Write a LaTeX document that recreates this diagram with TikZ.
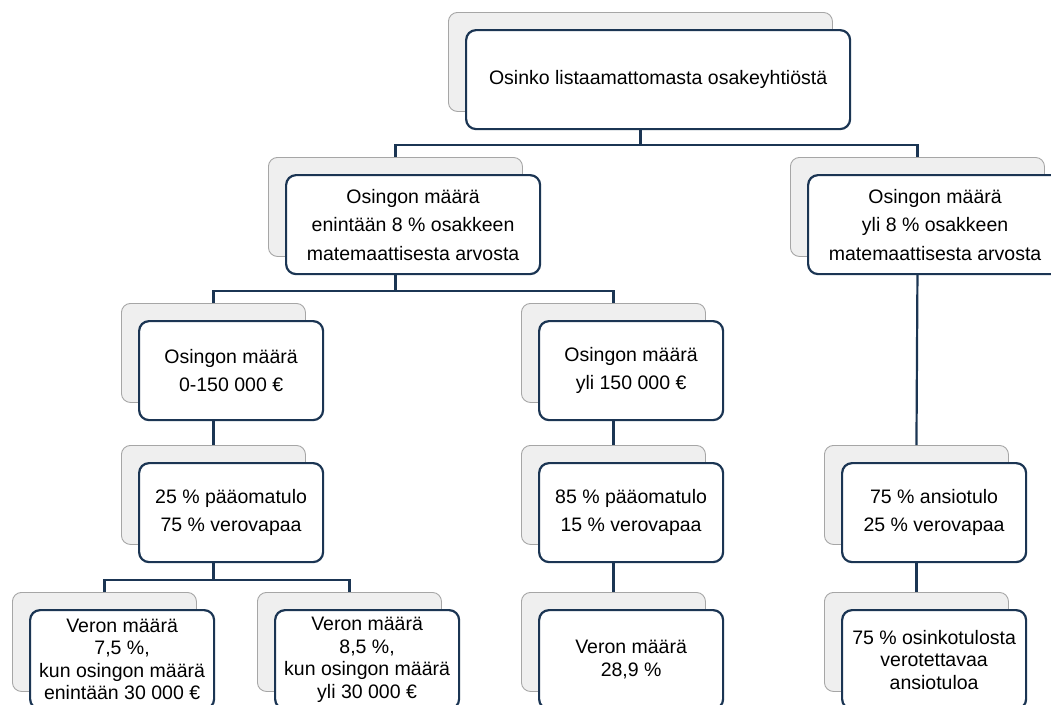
\documentclass[tikz,border=0pt]{standalone}
\usepackage{fontspec}
\setmainfont{Liberation Sans}
\definecolor{navy}{HTML}{1B3553}
\definecolor{shadefill}{HTML}{EFEFEF}
\definecolor{shadeline}{HTML}{A6A6A6}
\tikzset{
  backbox/.style={draw=shadeline, fill=shadefill, rounded corners=9pt, line width=0.9pt,
    anchor=north west, inner sep=0pt, minimum height=99pt},
  frontbox/.style={draw=navy, fill=white, rounded corners=10pt, line width=2.2pt,
    anchor=north west, inner sep=2pt, minimum height=99pt, align=center,
    font=\fontsize{19.5}{28.5}\selectfont},
  tightbox/.style={frontbox, font=\fontsize{19.5}{22.5}\selectfont},
  conn/.style={draw=navy, line width=2.2pt},
}
\begin{document}
\begin{tikzpicture}[x=1pt,y=-1pt]
\useasboundingbox (0,0) rectangle (1051,704);
\clip (0,0) rectangle (1051,704);
% level 1
\node[backbox, minimum width=384pt] (t) at (448,12) {};
\node[frontbox, minimum width=384pt] (tf) at (465,29) {Osinko listaamattomasta osakeyhtiöstä};
% level 2
\node[backbox, minimum width=254pt] (a) at (268,157) {};
\node[frontbox, minimum width=254pt] (af) at (285,174) {Osingon määrä\\enintään 8 \% osakkeen\\matemaattisesta arvosta};
\node[backbox, minimum width=254pt] (b) at (790,157) {};
\node[frontbox, minimum width=254pt] (bf) at (807,174) {Osingon määrä\\yli 8 \% osakkeen\\matemaattisesta arvosta};
% level 3
\node[backbox, minimum width=184pt] (c) at (121,303) {};
\node[frontbox, minimum width=184pt] (cf) at (138,320) {Osingon määrä\\0-150 000 €};
\node[backbox, minimum width=184pt] (d) at (521,303) {};
\node[frontbox, minimum width=184pt] (df) at (538,320) {Osingon määrä\\yli 150 000 €};
% level 4
\node[backbox, minimum width=184pt] (e) at (121,445) {};
\node[frontbox, minimum width=184pt] (ef) at (138,462) {25 \% pääomatulo\\75 \% verovapaa};
\node[backbox, minimum width=184pt] (f) at (521,445) {};
\node[frontbox, minimum width=184pt] (ff) at (538,462) {85 \% pääomatulo\\15 \% verovapaa};
\node[backbox, minimum width=184pt] (g) at (824,445) {};
\node[frontbox, minimum width=184pt] (gf) at (841,462) {75 \% ansiotulo\\25 \% verovapaa};
% level 5
\node[backbox, minimum width=184pt] (h) at (12,592) {};
\node[tightbox, minimum width=184pt] (hf) at (29,609) {Veron määrä\\7,5 \%,\\kun osingon määrä\\enintään 30 000 €};
\node[backbox, minimum width=184pt] (i) at (257,592) {};
\node[tightbox, minimum width=184pt] (iff) at (274,609) {Veron määrä\\8,5 \%,\\kun osingon määrä\\yli 30 000 €};
\node[backbox, minimum width=184pt] (j) at (521,592) {};
\node[tightbox, minimum width=184pt] (jf) at (538,609) {Veron määrä\\28,9 \%};
\node[backbox, minimum width=184pt] (k) at (824,592) {};
\node[tightbox, minimum width=184pt] (kf) at (841,609) {75 \% osinkotulosta\\verotettavaa\\ansiotuloa};
% connectors
\draw[conn] (tf.south -| t.center) -- ++(0,15) -| (a.north);
\draw[conn] (tf.south -| t.center) -- ++(0,15) -| (b.north);
\draw[conn] (af.south -| a.center) -- ++(0,16) -| (c.north);
\draw[conn] (af.south -| a.center) -- ++(0,16) -| (d.north);
\draw[conn] (bf.south -| b.center) -- (g.north);
\draw[conn] (cf.south -| c.center) -- (e.north);
\draw[conn] (df.south -| d.center) -- (f.north);
\draw[conn] (ef.south -| e.center) -- ++(0,17) -| (h.north);
\draw[conn] (ef.south -| e.center) -- ++(0,17) -| (i.north);
\draw[conn] (ff.south -| f.center) -- (j.north);
\draw[conn] (gf.south -| g.center) -- (k.north);
\end{tikzpicture}
\end{document}
